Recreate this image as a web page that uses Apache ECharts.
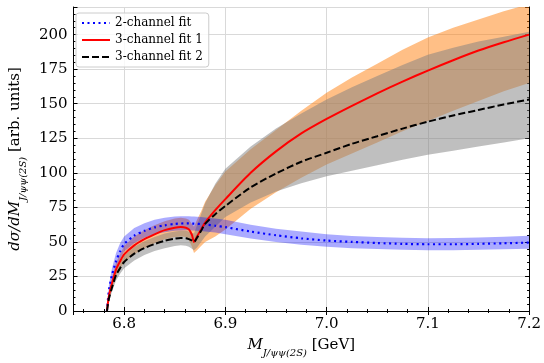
<!DOCTYPE html>
<html><head><meta charset="utf-8">
<script src="https://cdn.jsdelivr.net/npm/echarts@6/dist/echarts.min.js"></script>
<style>html,body{margin:0;padding:0;background:#fff}#c{width:544px;height:363px}</style>
</head><body><div id="c"></div>
<script>
// ---- data ----
const xs = [6.783, 6.785, 6.788, 6.792, 6.796, 6.80, 6.81, 6.82, 6.83, 6.84, 6.85, 6.856, 6.861, 6.864, 6.867, 6.869, 6.872, 6.876, 6.88, 6.89, 6.90, 6.925, 6.95, 6.975, 7.00, 7.025, 7.05, 7.075, 7.10, 7.125, 7.15, 7.175, 7.20];

const twoChannel    = [0, 15, 26, 36, 43, 48.5, 54.5, 58, 60.5, 62, 63, 63.3, 63.4, 63.4, 63.3, 63.2, 63.1, 62.9, 62.6, 61.7, 60.7, 57.5, 54.8, 52.6, 51, 50, 49.2, 48.6, 48.3, 48.3, 48.6, 49, 49.5];
const twoChannelLo  = [0, 11, 21, 30, 37, 43, 49, 53, 55.5, 57, 58, 58.3, 58.4, 58.4, 58.3, 58.2, 58.1, 57.9, 57.6, 56.8, 55.5, 52.5, 50, 48, 46.5, 45.5, 44.8, 44.3, 44, 44, 44.3, 44.7, 45];
const twoChannelHi  = [0, 19, 31, 42, 49, 54, 60, 63.5, 66, 67.5, 68.3, 68.5, 68.5, 68.5, 68.4, 68.3, 68.2, 68, 67.7, 67, 66, 62.5, 59.5, 57.5, 55.5, 54.3, 53.5, 53, 52.7, 52.8, 53.2, 53.8, 54.5];

const threeFit1     = [0, 11, 20, 30, 36, 41, 47.5, 52, 55.5, 58.5, 60.3, 60.8, 60.3, 59, 55, 50, 54, 59, 64, 73, 81, 100, 115.5, 128.5, 139, 148.5, 157.5, 166, 174, 181.5, 188.5, 194.5, 200];
const threeFit1Lo   = [0, 8, 16, 25, 31, 35, 41, 45.5, 49, 52, 53.5, 54, 53.5, 51, 46.5, 42, 44, 47, 50, 54, 59, 74, 86, 96.5, 106, 114, 122, 130, 137.5, 145, 152, 159, 165];
const threeFit1Hi   = [0, 14, 24, 35, 41, 47, 54, 58.5, 62, 65, 67, 67.5, 67, 66, 63, 61, 66, 72, 79, 91, 101, 117, 131, 145, 158, 169, 179, 189, 198, 205, 211, 217, 222];

const threeFit2     = [0, 9, 17, 26, 31, 35.5, 41.5, 45.5, 48.5, 50.8, 52.3, 52.8, 52.7, 52, 51, 50, 53, 58, 63, 70, 76, 89.5, 99.5, 108, 114.5, 121, 126.5, 132, 137, 141.5, 145.5, 149.5, 153];
const threeFit2Lo   = [0, 7, 14, 22, 27, 31, 36.5, 40.5, 43.5, 45.5, 47, 47.5, 47.3, 46.5, 45, 44, 46, 50, 54, 61, 68, 78.5, 86.5, 92.5, 97.5, 101.5, 105.5, 109.5, 113, 116, 119, 122, 125];
const threeFit2Hi   = [0, 12, 20, 30, 35, 40, 46.5, 50.5, 53.5, 56, 57.5, 58, 58, 57.5, 56.5, 56, 62, 70, 78, 92, 103, 119, 132, 143, 153, 162, 170, 178, 185.5, 190.5, 195, 198.5, 202];

const seriesNames = ['2-channel fit', '3-channel fit 1', '3-channel fit 2'];

// ---- chart ----
const FONT = 'DejaVu Serif';
const chart = echarts.init(document.getElementById('c'), null, {renderer: 'canvas'});
const pts = ys => xs.map((x, i) => [x, ys[i]]);

function bandSeries(lo, hi, color, z) {
  return {
    type: 'custom', silent: true, z: z, clip: true,
    data: [[xs[0], lo[0]]],
    encode: {x: 0, y: 1},
    renderItem: function (params, api) {
      const top = xs.map((x, i) => api.coord([x, hi[i]]));
      const bot = xs.map((x, i) => api.coord([x, lo[i]])).reverse();
      const cs = params.coordSys;
      return {
        type: 'polygon',
        shape: {points: top.concat(bot)},
        style: {fill: color},
        clipPath: {type: 'rect', shape: {x: cs.x, y: cs.y, width: cs.width, height: cs.height}}
      };
    }
  };
}

const tickCommon = {inside: true, length: 4, lineStyle: {color: '#000', width: 1}};
const minorCommon = {show: true, splitNumber: 5, length: 2, lineStyle: {color: '#000', width: 1}};
const axisLineCommon = {show: true, lineStyle: {color: '#000', width: 1}};
const richTitle = {
  it: {fontFamily: FONT, fontStyle: 'italic', fontSize: 15, lineHeight: 20, verticalAlign: 'top'},
  sub: {fontFamily: FONT, fontStyle: 'italic', fontSize: 10, lineHeight: 10, verticalAlign: 'bottom'},
  rm: {fontFamily: FONT, fontSize: 15, lineHeight: 20, verticalAlign: 'top'}
};

const option = {
  animation: false,
  backgroundColor: '#fff',
  grid: {left: 70, right: 10, top: 7, bottom: 48, containLabel: false},
  legend: {
    data: seriesNames,
    orient: 'vertical', left: 76, top: 13,
    itemWidth: 28, itemHeight: 12, itemGap: 5,
    padding: [4, 6, 4, 5],
    backgroundColor: 'rgba(255,255,255,0.8)',
    borderColor: '#cccccc', borderWidth: 1, borderRadius: 3,
    itemStyle: {opacity: 0},
    textStyle: {fontFamily: FONT, fontSize: 12, color: '#000'}
  },
  xAxis: [{
    type: 'value', min: 6.75, max: 7.2, position: 'bottom',
    axisLine: axisLineCommon, axisTick: tickCommon, minorTick: minorCommon,
    splitLine: {show: true, lineStyle: {color: '#d9d9d9', width: 1}},
    axisLabel: {fontFamily: FONT, fontSize: 15, color: '#000', margin: 6, showMinLabel: false,
      formatter: v => v.toFixed(1)},
    name: '{it|M}{sub|J/ψψ(2S)}{rm| [GeV]}',
    nameLocation: 'middle', nameGap: 27,
    nameTextStyle: {fontFamily: FONT, fontSize: 15, color: '#000', rich: richTitle}
  }, {
    type: 'value', min: 6.75, max: 7.2, position: 'top',
    axisLine: axisLineCommon, axisTick: tickCommon, minorTick: minorCommon,
    splitLine: {show: false}, axisLabel: {show: false}
  }],
  yAxis: [{
    type: 'value', min: 0, max: 220, interval: 25, position: 'left',
    axisLine: axisLineCommon, axisTick: tickCommon, minorTick: minorCommon,
    splitLine: {show: true, lineStyle: {color: '#d9d9d9', width: 1}},
    axisLabel: {fontFamily: FONT, fontSize: 15, color: '#000', margin: 6, showMaxLabel: false},
    name: '{it|dσ/dM}{sub|J/ψψ(2S)}{rm| [arb. units]}',
    nameLocation: 'middle', nameRotate: 90, nameGap: 31,
    nameTextStyle: {fontFamily: FONT, fontSize: 15, color: '#000', rich: richTitle}
  }, {
    type: 'value', min: 0, max: 220, interval: 25, position: 'right',
    axisLine: axisLineCommon, axisTick: tickCommon, minorTick: minorCommon,
    splitLine: {show: false}, axisLabel: {show: false}
  }],
  series: [
    bandSeries(threeFit1Lo, threeFit1Hi, 'rgba(255,127,14,0.5)', 1),
    bandSeries(threeFit2Lo, threeFit2Hi, 'rgba(128,128,128,0.5)', 2),
    bandSeries(twoChannelLo, twoChannelHi, 'rgba(0,0,255,0.33)', 3),
    {type: 'line', name: seriesNames[0], data: pts(twoChannel), symbol: 'none', smooth: 0.25, z: 6,
     itemStyle: {color: '#0000ff'}, lineStyle: {color: '#0000ff', width: 2.2, type: [2, 3.5]}},
    {type: 'line', name: seriesNames[1], data: pts(threeFit1), symbol: 'none', smooth: 0.25, z: 6,
     itemStyle: {color: '#ff0000'}, lineStyle: {color: '#ff0000', width: 2}},
    {type: 'line', name: seriesNames[2], data: pts(threeFit2), symbol: 'none', smooth: 0.25, z: 6,
     itemStyle: {color: '#000000'}, lineStyle: {color: '#000000', width: 2, type: [7, 3]}}
  ]
};
chart.setOption(option);
</script>
</body></html>
